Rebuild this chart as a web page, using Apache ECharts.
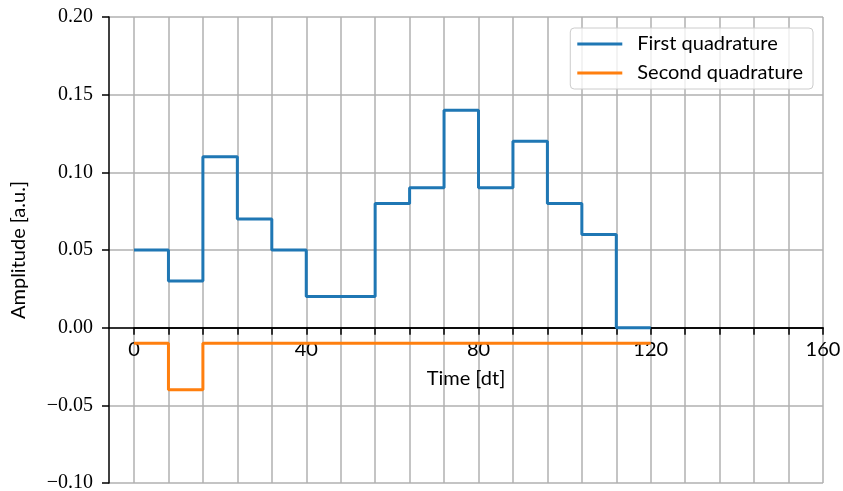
<!DOCTYPE html>
<html>
<head>
<meta charset="utf-8">
<script src="https://cdn.jsdelivr.net/npm/echarts@6/dist/echarts.min.js"></script>
<style>
  html, body { margin: 0; padding: 0; background: #ffffff; }
  #chart { width: 843px; height: 491px; }
</style>
</head>
<body>
<div id="chart"></div>
<script>
// Sample times (dt) — last point closes the final step
const timeSteps = [0, 8, 16, 24, 32, 40, 48, 56, 64, 72, 80, 88, 96, 104, 112, 120];
// Piecewise-constant amplitudes for each quadrature
const firstQuadrature  = [0.05, 0.03, 0.11, 0.07, 0.05, 0.02, 0.02, 0.08, 0.09, 0.14, 0.09, 0.12, 0.08, 0.06, 0.00, 0.00];
const secondQuadrature = [-0.01, -0.04, -0.01, -0.01, -0.01, -0.01, -0.01, -0.01, -0.01, -0.01, -0.01, -0.01, -0.01, -0.01, -0.01, -0.01];
const seriesNames = ['First quadrature', 'Second quadrature'];
const xLabelValues = [0, 40, 80, 120, 160];
const yMin = -0.1, yMax = 0.2, yStep = 0.05;

const SANS = 'Lato';
const SERIF = 'Liberation Serif';
const GRID_COLOR = '#b0b0b0';

const W = 843, H = 491;
const PLOT = { top: 17, bottom: 8, right: 20 };
// The time axis sits on the zero line: shift it up from the plot bottom
const plotHeight = H - PLOT.top - PLOT.bottom;
const zeroOffset = -((0 - yMin) / (yMax - yMin)) * plotHeight;

const pairs = arr => timeSteps.map((t, i) => [t, arr[i]]);
const fmtY = v => {
  if (Math.abs(v) < 1e-9) return '0.00';
  return v.toFixed(2).replace('-', '\u2212');
};

const chart = echarts.init(document.getElementById('chart'), null, { renderer: 'canvas' });
chart.setOption({
  animation: false,
  backgroundColor: '#ffffff',
  grid: [
    { left: 109, right: PLOT.right, top: PLOT.top, bottom: PLOT.bottom, outerBoundsMode: 'none', containLabel: false },
    { left: 134, right: PLOT.right, top: PLOT.top, bottom: PLOT.bottom, outerBoundsMode: 'none', containLabel: false }
  ],
  legend: {
    data: seriesNames,
    orient: 'vertical',
    right: 30,
    top: 28,
    icon: 'rect',
    itemWidth: 45,
    itemHeight: 3,
    itemGap: 9,
    padding: [6, 10, 6, 7],
    backgroundColor: 'rgba(255,255,255,0.8)',
    borderColor: '#cccccc',
    borderWidth: 1,
    borderRadius: 4,
    textStyle: { fontFamily: SANS, fontSize: 20, color: '#000', lineHeight: 20, padding: [0, 0, 0, 10] }
  },
  xAxis: [
    {
      gridIndex: 0, type: 'value', min: -6, max: 160, position: 'bottom', offset: zeroOffset,
      axisLine: { show: true, onZero: false, lineStyle: { color: '#000', width: 1.5 } },
      axisTick: { show: false }, axisLabel: { show: false }, splitLine: { show: false },
      name: 'Time [dt]', nameLocation: 'middle', nameGap: 41,
      nameTextStyle: { fontFamily: SANS, fontSize: 20, color: '#000' }
    },
    {
      gridIndex: 1, type: 'value', min: 0, max: 160, interval: 8, position: 'bottom', offset: zeroOffset,
      axisLine: { show: true, onZero: false, lineStyle: { color: '#000', width: 1.5 } },
      axisTick: { show: true, inside: false, length: 7, lineStyle: { color: '#000', width: 1.5 } },
      axisLabel: {
        show: true, margin: 12, fontFamily: SANS, fontSize: 20, color: '#000',
        formatter: v => (xLabelValues.indexOf(v) >= 0 ? String(v) : '')
      },
      splitLine: { show: true, lineStyle: { color: GRID_COLOR, width: 1.5 } }
    }
  ],
  yAxis: [
    {
      gridIndex: 0, type: 'value', min: yMin, max: yMax, interval: yStep,
      axisLine: { show: true, onZero: false, lineStyle: { color: '#000', width: 1.5 } },
      axisTick: { show: true, inside: false, length: 7, lineStyle: { color: '#000', width: 1.5 } },
      axisLabel: { show: true, margin: 16, fontFamily: SERIF, fontSize: 20, color: '#000', formatter: fmtY },
      splitLine: { show: true, lineStyle: { color: GRID_COLOR, width: 1.5 } },
      name: 'Amplitude [a.u.]', nameLocation: 'middle', nameGap: 80,
      nameTextStyle: { fontFamily: SANS, fontSize: 20, color: '#000' }
    },
    {
      gridIndex: 1, type: 'value', min: yMin, max: yMax, interval: yStep,
      axisLine: { show: false, onZero: false }, axisTick: { show: false },
      axisLabel: { show: false }, splitLine: { show: false }
    }
  ],
  series: [
    {
      name: seriesNames[0], type: 'line', step: 'end', xAxisIndex: 1, yAxisIndex: 1,
      data: pairs(firstQuadrature), showSymbol: false, color: '#1f77b4',
      lineStyle: { width: 3, color: '#1f77b4' }, z: 3
    },
    {
      name: seriesNames[1], type: 'line', step: 'end', xAxisIndex: 1, yAxisIndex: 1,
      data: pairs(secondQuadrature), showSymbol: false, color: '#ff7f0e',
      lineStyle: { width: 3, color: '#ff7f0e' }, z: 3
    }
  ]
});
</script>
</body>
</html>
